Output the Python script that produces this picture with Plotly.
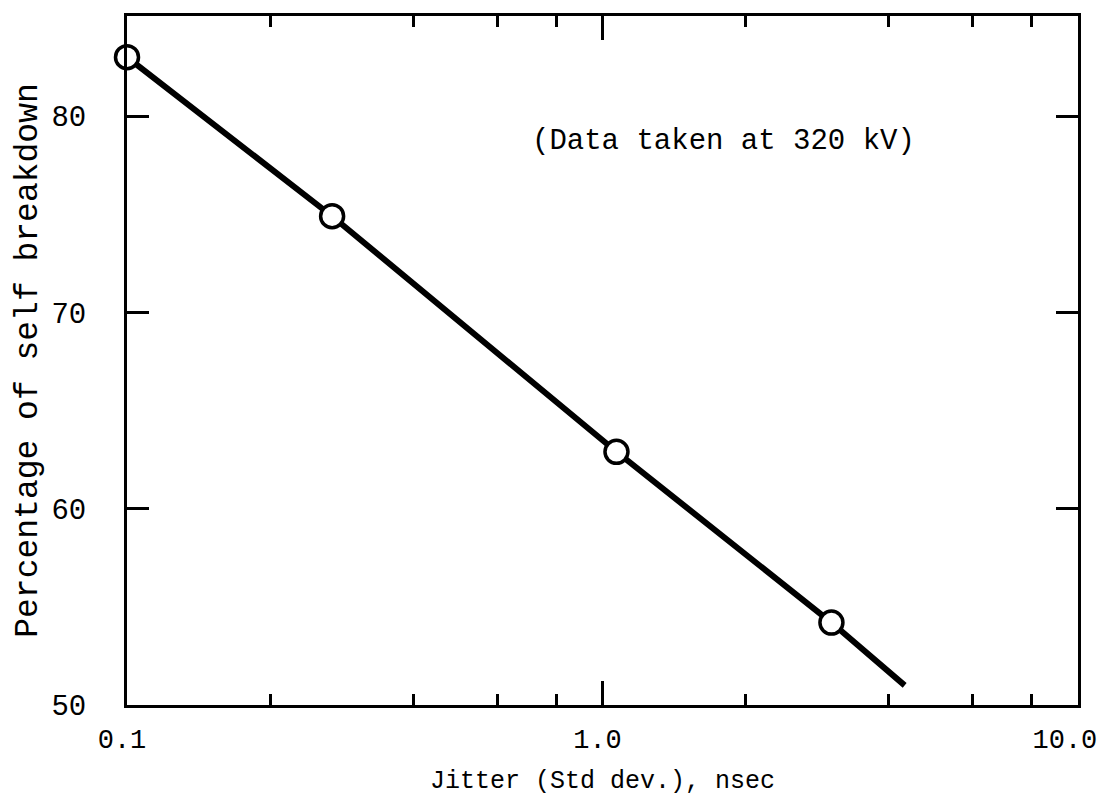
import math
import plotly.graph_objects as go

# Data
jitter_ns = [0.1, 0.27, 1.07, 3.03]
pct_self_breakdown = [83.0, 74.9, 62.9, 54.2]

# Fitted line (through the points, ending past the last point)
line_x = [0.1, 0.27, 1.07, 3.03, 4.32]
line_y = [83.0, 74.9, 62.9, 54.2, 51.0]

x_tickvals = [0.1, 1.0, 10.0]
x_ticktext = ["0.1", "1.0", "10.0\u00a0"]
x_minor = [0.2, 0.4, 0.6, 0.8, 2, 4, 6, 8]
y_tickvals = [50, 60, 70, 80]
y_ticktext = ["50", "60", "70", "80"]

note_text = "(Data taken at 320 kV)"
note_x, note_y = 1.80, 78.7

FONT = "Liberation Mono, Courier New, monospace"

fig = go.Figure()
fig.add_trace(go.Scatter(
    x=line_x, y=line_y, mode="lines",
    line=dict(color="black", width=6),
    showlegend=False, hoverinfo="skip"))
fig.add_trace(go.Scatter(
    x=jitter_ns, y=pct_self_breakdown, mode="markers",
    marker=dict(symbol="circle", size=23, color="white",
                line=dict(color="black", width=3.5)),
    showlegend=False, cliponaxis=False))

fig.add_annotation(
    x=math.log10(note_x), y=note_y, xref="x", yref="y", showarrow=False,
    text=note_text, font=dict(family=FONT, size=29, color="black"))

fig.update_layout(
    width=1098, height=793,
    margin=dict(l=119, r=28, t=8, b=96, autoexpand=False),
    paper_bgcolor="white", plot_bgcolor="white",
    font=dict(family=FONT, size=29, color="black"),
    xaxis=dict(
        type="log", range=[-1, 1], automargin=False,
        tickvals=x_tickvals, ticktext=x_ticktext,
        tickfont=dict(family=FONT, size=27),
        ticks="inside", ticklen=24, tickwidth=2.5, tickcolor="black",
        minor=dict(tickvals=x_minor, ticks="inside", ticklen=11,
                   tickwidth=2.5, tickcolor="black", showgrid=False),
        showline=True, linecolor="black", linewidth=3, mirror="allticks",
        showgrid=False, zeroline=False,
        ticklabelstandoff=8, ticklabeloverflow="allow", ticklabelshift=-5,
        title=dict(text="Jitter (Std dev.), nsec", standoff=16,
                   font=dict(family=FONT, size=25)),
    ),
    yaxis=dict(
        range=[50, 85.1], automargin=False,
        tickvals=y_tickvals, ticktext=y_ticktext,
        tickfont=dict(family=FONT, size=29),
        ticks="inside", ticklen=22, tickwidth=2.5, tickcolor="black",
        showline=True, linecolor="black", linewidth=3, mirror="allticks",
        showgrid=False, zeroline=False,
        ticklabelstandoff=32,
        title=dict(text="Percentage of self breakdown", standoff=4,
                   font=dict(family=FONT, size=33)),
    ),
)

fig.write_html("out.html")
